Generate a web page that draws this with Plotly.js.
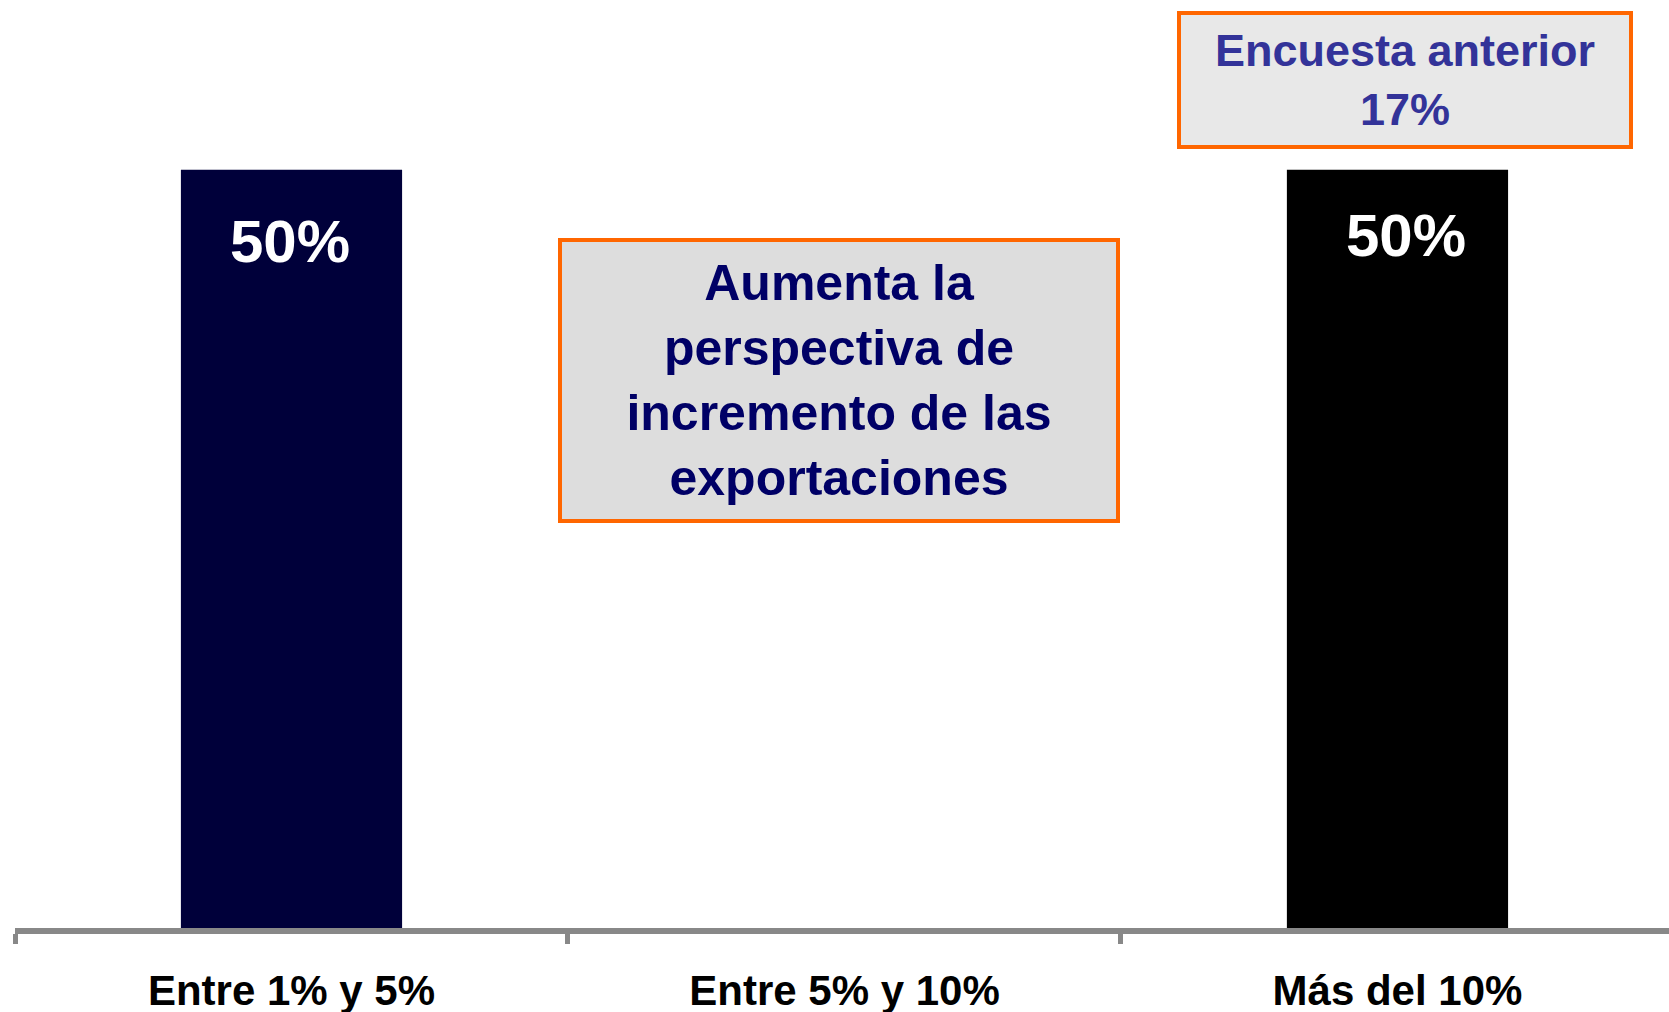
<!DOCTYPE html>
<html>
<head>
<meta charset="utf-8">
<script src="https://cdn.plot.ly/plotly-3.0.1.min.js"></script>
<style>
  html, body { margin: 0; padding: 0; background: #fff; }
  #chart { width: 1669px; height: 1012px; }
</style>
</head>
<body>
<div id="chart"></div>
<script>
const categories = ['Entre 1% y 5%', 'Entre 5% y 10%', 'Más del 10%'];
const values = [50, 0, 50];
const valueLabels = ['50%', '', '50%'];
const barColors = ['#00003a', '#00003a', '#000000'];

const noteMain = 'Aumenta la<br>perspectiva de<br>incremento de las<br>exportaciones';
const notePrev = 'Encuesta anterior<br>17%';

function renderExportChart(containerId) {
    const traces = [
        {
            x: categories,
            y: values,
            type: 'bar',
            marker: { color: barColors, line: { width: 0 } },
            hoverinfo: 'skip',
        },
    ];

    const labelNotes = values.map((v, i) => ({
        x: categories[i],
        y: v,
        xref: 'x',
        yref: 'y',
        text: valueLabels[i],
        showarrow: false,
        yshift: i === 0 ? -72 : -66,
        xshift: i === 0 ? -2 : 9,
        font: { family: 'Liberation Sans, Arial, sans-serif', size: 60, color: '#ffffff', weight: 'bold' },
    })).filter(a => a.text !== '');

    const layout = {
        paper_bgcolor: '#ffffff',
        plot_bgcolor: '#ffffff',
        width: 1669,
        height: 1012,
        margin: { t: 0, l: 15, r: 0, b: 84 },
        showlegend: false,
        bargap: 0.6,
        xaxis: {
            type: 'category',
            range: [-0.5, 2.491],
            tickson: 'boundaries',
            ticks: 'outside',
            ticklen: 10,
            tickwidth: 5,
            tickcolor: '#888888',
            showline: true,
            linecolor: '#888888',
            linewidth: 6,
            showgrid: false,
            zeroline: false,
            ticklabelstandoff: 21,
            tickfont: { family: 'Liberation Sans, Arial, sans-serif', size: 42, color: '#000000', weight: 'bold' },
        },
        yaxis: {
            range: [0, 61.2],
            visible: false,
            showgrid: false,
            zeroline: false,
        },
        annotations: labelNotes.concat([
            {
                xref: 'paper', yref: 'paper',
                x: 0.4982, y: 0.5905,
                xanchor: 'center', yanchor: 'middle',
                text: noteMain,
                showarrow: false,
                width: 554, height: 277,
                bgcolor: '#dddddd',
                bordercolor: '#ff6600',
                borderwidth: 4,
                borderpad: 0,
                font: { family: 'Liberation Sans, Arial, sans-serif', size: 50, color: '#000066', weight: 'bold' },
            },
            {
                xref: 'paper', yref: 'paper',
                x: 0.8404, y: 0.9138,
                xanchor: 'center', yanchor: 'middle',
                text: notePrev,
                showarrow: false,
                width: 448, height: 130,
                bgcolor: '#e8e8e8',
                bordercolor: '#ff6600',
                borderwidth: 4,
                borderpad: 0,
                font: { family: 'Liberation Sans, Arial, sans-serif', size: 45, color: '#333399', weight: 'bold' },
            },
        ]),
    };

    Plotly.newPlot(containerId, traces, layout, { displayModeBar: false, staticPlot: true });
}

renderExportChart('chart');
</script>
</body>
</html>
